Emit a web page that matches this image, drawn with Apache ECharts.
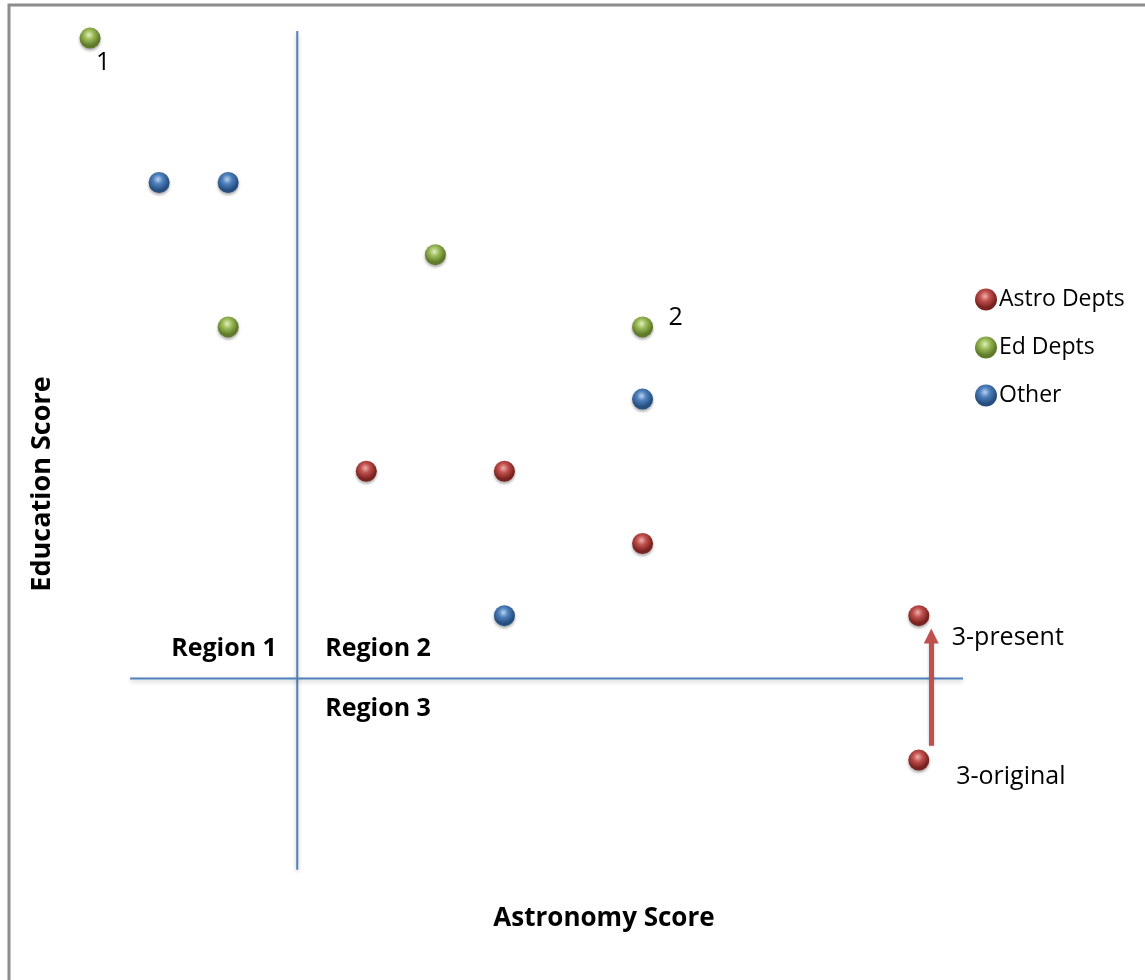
<!DOCTYPE html>
<html><head><meta charset="utf-8">
<script src="https://cdn.jsdelivr.net/npm/echarts@6/dist/echarts.min.js"></script>
<style>html,body{margin:0;padding:0;background:#fff}#c{width:1145px;height:980px}</style>
</head><body><div id="c"></div>
<script>
// Data (Astronomy score, Education score)
const astroDepts = [[4, 3, ''], [6, 3, ''], [8, 2, ''], [12, 1, '3-present'], [12, -1, '3-original']];
const edDepts = [[0, 9, '1'], [2, 5, ''], [5, 6, ''], [8, 5, '2']];
const otherDepts = [[1, 7, ''], [2, 7, ''], [8, 4, ''], [6, 1, '']];
const regionLabels = [[1.94, 0.54, 'Region 1'], [4.17, 0.54, 'Region 2'], [4.17, -0.29, 'Region 3']];
const verticalDivider = [[3, 9.1], [3, -2.52]];
const horizontalDivider = [[0.58, 0.13], [12.64, 0.13]];
const moveArrow = [[12.18, -0.8], [12.18, 0.72]];
const xTitle = 'Astronomy Score';
const yTitle = 'Education Score';

const FONT = '"Open Sans", Lato, sans-serif';
function ball(hi, mid, dark) {
  return { type: 'radial', x: 0.45, y: 0.35, r: 0.65,
    colorStops: [{offset: 0, color: hi}, {offset: 0.35, color: mid}, {offset: 0.8, color: dark}, {offset: 1, color: dark}] };
}
const RED = ball('#f0b0ad', '#c0504d', '#7a2220');
const GREEN = ball('#e2efbf', '#9bbb59', '#5f7a28');
const BLUE = ball('#b8d3f2', '#4f81bd', '#264f80');

const labelOffsets = { '1': [13, 25], '2': [33, -9], '3-present': [89, 22], '3-original': [92, 17] };
const txt = { fontFamily: FONT, color: '#000', opacity: 1, textBorderWidth: 0, textBorderColor: 'transparent', textShadowBlur: 0 };
function makeSeries(name, data, color) {
  return {
    name, type: 'scatter', symbol: 'circle', symbolSize: 21, z: 5,
    itemStyle: { color, opacity: 1, shadowBlur: 3, shadowColor: 'rgba(0,0,0,0.35)', shadowOffsetY: 2 },
    data: data.map(d => ({ value: d, label: d[2] ? Object.assign({ show: true, formatter: d[2], offset: labelOffsets[d[2]], position: 'inside', fontSize: 25 }, txt) : { show: false } })),
    label: Object.assign({ show: false, position: 'inside', fontSize: 25 }, txt),
    emphasis: { disabled: true }
  };
}

const chart = echarts.init(document.getElementById('c'), null, { renderer: 'canvas' });
chart.setOption({
  animation: false,
  backgroundColor: '#fff',
  grid: { left: 21, right: 19, top: 2, bottom: 108 },
  xAxis: { type: 'value', min: -1, max: 15,
    axisLine: { show: false }, axisTick: { show: false }, axisLabel: { show: false }, splitLine: { show: false } },
  yAxis: { type: 'value', min: -2.55, max: 9.5,
    axisLine: { show: false }, axisTick: { show: false }, axisLabel: { show: false }, splitLine: { show: false } },
  legend: { orient: 'vertical', left: 970, top: 283, itemGap: 25, itemWidth: 22, itemHeight: 22, icon: 'circle',
    textStyle: { fontFamily: FONT, fontSize: 23, color: '#000', padding: [0, 0, 0, -3] },
    data: ['Astro Depts', 'Ed Depts', 'Other'] },
  graphic: [
    { type: 'rect', shape: { x: 9, y: 5, width: 1200, height: 1000 }, style: { fill: 'none', stroke: '#8c8c8c', lineWidth: 3 }, z: 100 },
    { type: 'text', x: 604, y: 919, style: { text: xTitle, fontFamily: FONT, fontWeight: 'bold', fontSize: 26, fill: '#000', textAlign: 'center', textVerticalAlign: 'middle' } },
    { type: 'text', x: 42, y: 484, rotation: Math.PI / 2, style: { text: yTitle, fontFamily: FONT, fontWeight: 'bold', fontSize: 27, fill: '#000', textAlign: 'center', textVerticalAlign: 'middle' } }
  ],
  series: [
    { type: 'line', data: verticalDivider, symbol: 'none', silent: true, z: 2,
      lineStyle: { color: '#4f81bd', width: 2, shadowBlur: 4, shadowColor: 'rgba(0,0,0,0.25)', shadowOffsetY: 2 } },
    { type: 'line', data: horizontalDivider, symbol: 'none', silent: true, z: 2,
      lineStyle: { color: '#4f81bd', width: 2, shadowBlur: 4, shadowColor: 'rgba(0,0,0,0.25)', shadowOffsetY: 2 } },
    { type: 'lines', coordinateSystem: 'cartesian2d', silent: true, z: 3,
      symbol: ['none', 'triangle'], symbolSize: 15,
      lineStyle: { color: '#c0504d', width: 5, opacity: 1, shadowBlur: 3, shadowColor: 'rgba(0,0,0,0.25)' },
      data: [{ coords: moveArrow }] },
    { type: 'scatter', symbolSize: 0, silent: true, z: 4,
      itemStyle: { opacity: 1 },
      data: regionLabels,
      label: Object.assign({ show: true, position: 'inside', formatter: p => p.data[2], fontWeight: 'bold', fontSize: 25 }, txt) },
    makeSeries('Astro Depts', astroDepts, RED),
    makeSeries('Ed Depts', edDepts, GREEN),
    makeSeries('Other', otherDepts, BLUE)
  ]
});
</script></body></html>
